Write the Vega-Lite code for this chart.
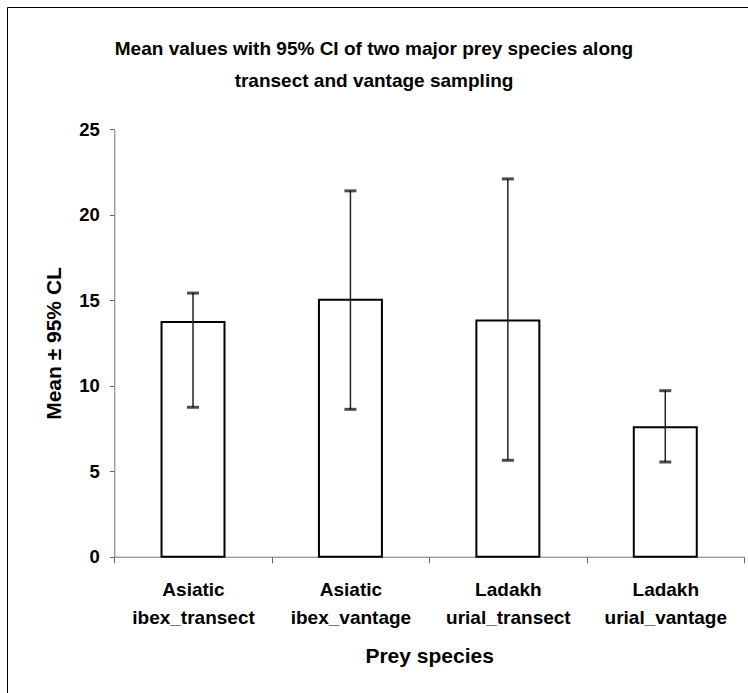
{
  "$schema": "https://vega.github.io/schema/vega-lite/v6.json",
  "autosize": {"type": "none"},
  "width": 742,
  "height": 687,
  "padding": {"left": 7, "top": 7, "right": -1, "bottom": -1},
  "background": "white",
  "title": {
    "text": ["Mean values with 95% CI of two major prey species along", "transect and vantage sampling"],
    "anchor": "middle",
    "frame": "group",
    "orient": "top",
    "offset": -84,
    "dx": -4,
    "font": "Liberation Sans",
    "fontSize": 19,
    "fontWeight": "bold",
    "lineHeight": 32,
    "color": "#000"
  },
  "data": {
    "values": [
      {"species": "Asiatic ibex_transect", "mean": 13.73, "lower": 8.74, "upper": 15.42},
      {"species": "Asiatic ibex_vantage", "mean": 15.03, "lower": 8.62, "upper": 21.4},
      {"species": "Ladakh urial_transect", "mean": 13.82, "lower": 5.64, "upper": 22.1},
      {"species": "Ladakh urial_vantage", "mean": 7.57, "lower": 5.54, "upper": 9.71}
    ]
  },
  "encoding": {
    "x": {
      "field": "species",
      "type": "nominal",
      "sort": null,
      "scale": {"range": [107.3, 737], "paddingInner": 0, "paddingOuter": 0},
      "axis": {
        "title": "Prey species",
        "orient": "bottom",
        "offset": -137.3,
        "labelAngle": 0,
        "labelExpr": "split(datum.label, ' ')",
        "labelLineHeight": 28,
        "labelPadding": 18,
        "labelFont": "Liberation Sans",
        "labelFontSize": 19,
        "labelFontWeight": "bold",
        "labelColor": "#000",
        "tickBand": "extent",
        "tickSize": 6,
        "tickColor": "#666",
        "domainColor": "#777",
        "titleFont": "Liberation Sans",
        "titleFontSize": 21,
        "titleFontWeight": "bold",
        "titleColor": "#000",
        "titlePadding": 18
      }
    }
  },
  "layer": [
    {
      "mark": {"type": "bar", "fill": "white", "stroke": "#000", "strokeWidth": 2, "width": {"band": 0.4}},
      "encoding": {
        "y": {
          "field": "mean",
          "type": "quantitative",
          "scale": {"domain": [0, 25], "range": [549.7, 122.3], "nice": false},
          "axis": {
            "title": "Mean ± 95% CL",
            "orient": "left",
            "offset": -107.3,
            "values": [0, 5, 10, 15, 20, 25],
            "grid": false,
            "tickSize": 5,
            "tickColor": "#666",
            "domainColor": "#777",
            "labelPadding": 10,
            "labelFont": "Liberation Sans",
            "labelFontSize": 18.5,
            "labelFontWeight": "bold",
            "labelColor": "#000",
            "titleFont": "Liberation Sans",
            "titleFontSize": 21,
            "titleFontWeight": "bold",
            "titleColor": "#000",
            "titlePadding": 14
          }
        }
      }
    },
    {
      "mark": {"type": "rule", "color": "#222", "strokeWidth": 1.5},
      "encoding": {
        "y": {"field": "lower", "type": "quantitative"},
        "y2": {"field": "upper"}
      }
    },
    {
      "mark": {"type": "tick", "color": "#000", "thickness": 3, "size": 12},
      "encoding": {"y": {"field": "lower", "type": "quantitative"}}
    },
    {
      "mark": {"type": "tick", "color": "#000", "thickness": 3, "size": 12},
      "encoding": {"y": {"field": "upper", "type": "quantitative"}}
    }
  ],
  "config": {
    "view": {"stroke": "#000", "strokeWidth": 1}
  }
}
